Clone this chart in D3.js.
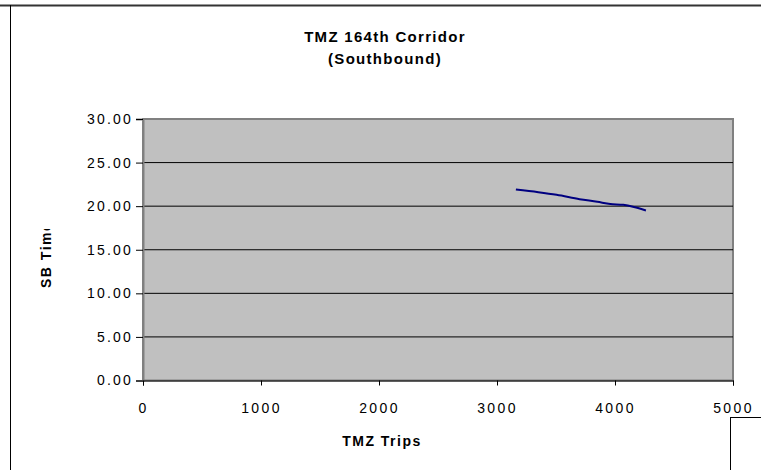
<!DOCTYPE html>
<style>
  body { margin: 0; background: #fff; }
  svg { font-family: "Liberation Sans", Arial, sans-serif; }
</style>
<svg width="761" height="470"></svg>
<script src="https://d3js.org/d3.v7.min.js"></script>
<script>

var trips = [3160, 3350, 3505, 3700, 3850, 3960, 4070, 4160, 4262];
var sbTime = [21.9, 21.6, 21.3, 20.8, 20.5, 20.25, 20.15, 19.9, 19.5];
var xTicks = [0, 1000, 2000, 3000, 4000, 5000];
var yTicks = [0, 5, 10, 15, 20, 25, 30];

var svg = d3.select("svg");

var margin = {top: 119, right: 28, bottom: 89.5, left: 143},
    width = 761 - margin.left - margin.right,
    height = 470 - margin.top - margin.bottom;

// outer chart frame (cut off on right/bottom)
svg.append("line").attr("x1", 0).attr("x2", 761).attr("y1", 5.5).attr("y2", 5.5)
  .attr("stroke", "#333").attr("stroke-width", 2);
svg.append("line").attr("x1", 10.5).attr("x2", 10.5).attr("y1", 5).attr("y2", 470)
  .attr("stroke", "#000").attr("stroke-width", 1);

// title
var title = svg.append("text")
  .attr("text-anchor", "middle")
  .style("font-size", "15px")
  .style("font-weight", "bold")
  .style("letter-spacing", "1.3px");
title.append("tspan").attr("x", 385).attr("y", 42).text("TMZ 164th Corridor");
title.append("tspan").attr("x", 385).attr("y", 64).text("(Southbound)");

var x = d3.scaleLinear().domain([0, 5000]).range([0, width]);
var y = d3.scaleLinear().domain([0, 30]).range([height, 0]);

var g = svg.append("g").attr("transform", "translate(" + margin.left + "," + margin.top + ")");

g.append("rect")
  .attr("width", width).attr("height", height)
  .attr("fill", "#c0c0c0")
  .attr("stroke", "#808080").attr("stroke-width", 2);

// gridlines
g.selectAll(".grid")
  .data(yTicks.slice(1, -1))
  .enter().append("line")
  .attr("x1", 0).attr("x2", width)
  .attr("y1", function(d) { return y(d); })
  .attr("y2", function(d) { return y(d); })
  .attr("stroke", "#000").attr("stroke-width", 1);

// y axis
var yAxis = g.append("g")
  .call(d3.axisLeft(y).tickValues(yTicks).tickSize(7).tickPadding(3).tickFormat(d3.format(".2f")));
yAxis.select(".domain").attr("stroke", "#808080").attr("stroke-width", 2);
yAxis.selectAll("text")
  .style("font-size", "14px").style("letter-spacing", "2.2px")
  .style("font-family", "Liberation Sans, Arial, sans-serif").attr("fill", "#000");

// x axis
var xAxis = g.append("g")
  .attr("transform", "translate(0," + height + ")")
  .call(d3.axisBottom(x).tickValues(xTicks).tickSize(5).tickPadding(18).tickFormat(d3.format("d")));
xAxis.select(".domain").attr("stroke", "#000").attr("stroke-width", 1);
xAxis.selectAll("text")
  .style("font-size", "14px").style("letter-spacing", "2.4px")
  .style("font-family", "Liberation Sans, Arial, sans-serif").attr("fill", "#000");

// series line
var pts = trips.map(function(t, i) { return [t, sbTime[i]]; });
g.append("path")
  .datum(pts)
  .attr("fill", "none")
  .attr("stroke", "#000080")
  .attr("stroke-width", 2)
  .attr("d", d3.line()
    .x(function(d) { return x(d[0]); })
    .y(function(d) { return y(d[1]); })
    .curve(d3.curveMonotoneX));

// axis titles
svg.append("text")
  .attr("x", 382).attr("y", 446)
  .attr("text-anchor", "middle")
  .style("font-size", "14px").style("font-weight", "bold").style("letter-spacing", "1.5px")
  .text("TMZ Trips");

svg.append("clipPath").attr("id", "yclip")
  .append("rect").attr("x", 30).attr("y", 229).attr("width", 30).attr("height", 80);
svg.append("g")
  .attr("clip-path", "url(#yclip)")
  .append("text")
  .attr("transform", "translate(51,288) rotate(-90)")
  .attr("text-anchor", "start")
  .style("font-size", "14px").style("font-weight", "bold").style("letter-spacing", "1.5px")
  .text("SB Time");

// cut-off legend box
svg.append("rect")
  .attr("x", 730.5).attr("y", 417.5).attr("width", 60).attr("height", 80)
  .attr("fill", "#fff").attr("stroke", "#000").attr("stroke-width", 1);

</script>
